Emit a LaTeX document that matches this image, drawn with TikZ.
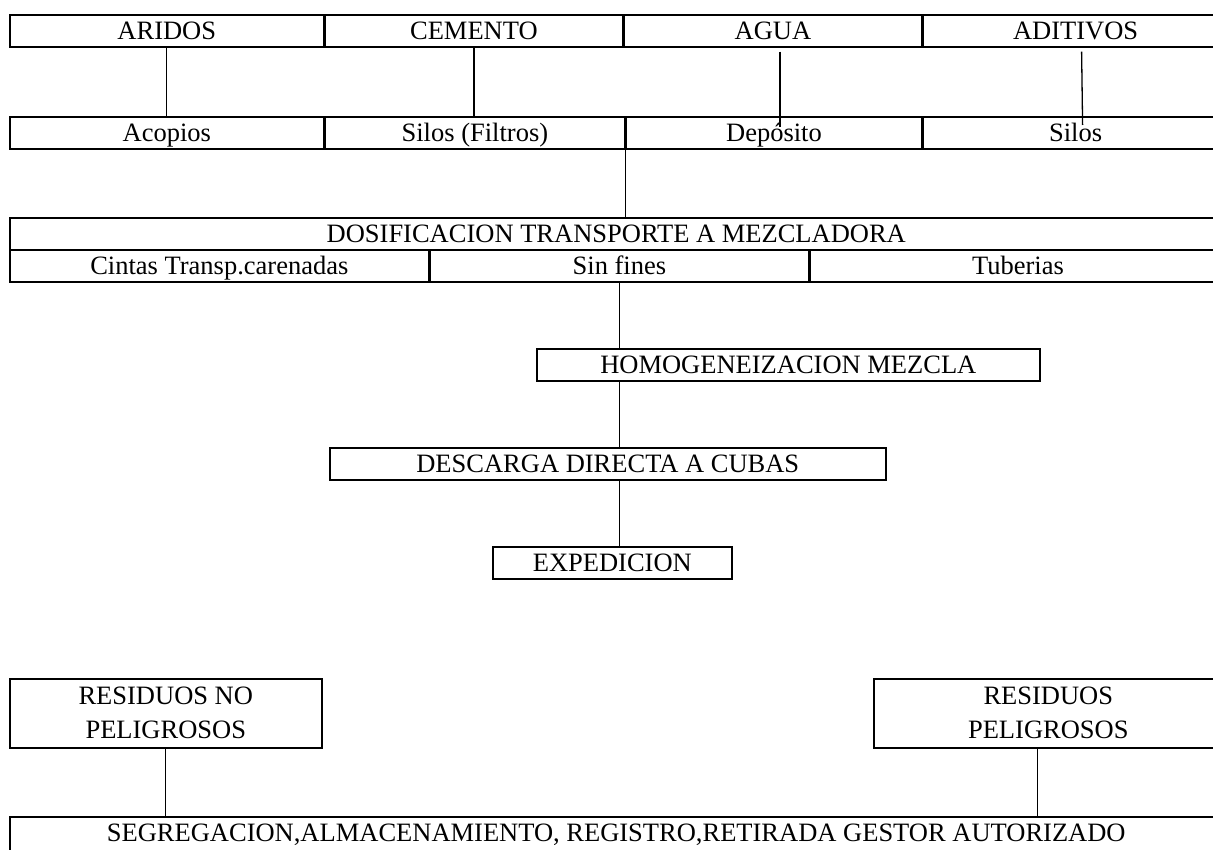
\documentclass[tikz,border=0pt]{standalone}
\usepackage{fontspec}
\setmainfont{Liberation Serif}
\usetikzlibrary{positioning,calc}

\begin{document}
\begin{tikzpicture}[x=1pt,y=-1pt]
\tikzstyle{every node}=[font=\fontsize{26.5}{34}\selectfont]
\tikzstyle{cell}=[draw, line width=1.6pt, inner sep=0pt, minimum height=32pt, text height=25pt, text depth=7pt, anchor=north west]
\tikzstyle{link}=[line width=1.3pt]
\useasboundingbox (0,0) rectangle (1213,850);
% materias primas
\node [cell, minimum width=314pt] (ARIDOS) at (9,14) {ARIDOS};
\node [cell, minimum width=297pt, right=0pt of ARIDOS] (CEMENTO) {CEMENTO};
\node [cell, minimum width=298pt, right=0pt of CEMENTO] (AGUA) {AGUA};
\node [cell, minimum width=304pt, right=0pt of AGUA] (ADITIVOS) {ADITIVOS};
% almacenamiento
\node [cell, minimum width=314pt] (Acopios) at (9,116) {Acopios};
\node [cell, minimum width=299pt, right=0pt of Acopios] (SilosF) {Silos (Filtros)};
\node [cell, minimum width=296pt, right=0pt of SilosF] (Deposito) {Depósito};
\node [cell, minimum width=304pt, right=0pt of Deposito] (Silos) {Silos};
% dosificacion
\node [cell, minimum width=1213pt] (DOSIF) at (9,217) {DOSIFICACION TRANSPORTE A MEZCLADORA};
\node [cell, minimum width=419pt] (Cintas) at (9,249) {Cintas Transp.carenadas};
\node [cell, minimum width=378pt, right=0pt of Cintas] (SinFines) {Sin fines};
\node [cell, minimum width=416pt, right=0pt of SinFines] (Tuberias) {Tuberias};
% proceso
\node [cell, minimum width=503pt] (HOMOG) at (536,348) {HOMOGENEIZACION MEZCLA};
\node [cell, minimum width=556pt] (DESC) at (329,447) {DESCARGA DIRECTA A CUBAS};
\node [cell, minimum width=239pt] (EXPED) at (492,546) {EXPEDICION};
% residuos
\node [cell, text height=, text depth=, minimum width=312pt, minimum height=69pt, align=center] (RESNO) at (9,678) {RESIDUOS NO\\PELIGROSOS};
\node [cell, text height=, text depth=, minimum width=349pt, minimum height=69pt, align=center] (RESP) at (873,678) {RESIDUOS\\PELIGROSOS};
\node [cell, minimum width=1213pt, minimum height=60pt, text height=25pt, text depth=35pt] (SEGREG) at (9,816) {SEGREGACION,ALMACENAMIENTO, REGISTRO,RETIRADA GESTOR AUTORIZADO};

\draw [link] (ARIDOS.south) -- (ARIDOS.south |- Acopios.north);
\draw [link] (CEMENTO.south) -- (CEMENTO.south |- SilosF.north);
\draw [link] ($(AGUA.south)+(7,4)$) -- ($(Deposito.north)+(6,11)$);
\draw [link] ($(ADITIVOS.south)+(6,4)$) -- ($(Silos.north)+(7,9)$);
\draw [link] (Deposito.south west) -- (Deposito.south west |- DOSIF.north);
\draw [link] (SinFines.south) -- (SinFines.south |- HOMOG.north);
\draw [link] (SinFines.south |- HOMOG.south) -- (SinFines.south |- DESC.north);
\draw [link] (SinFines.south |- DESC.south) -- (SinFines.south |- EXPED.north);
\draw [link] (RESNO.south) -- (RESNO.south |- SEGREG.north);
\draw [link] ($(RESP.south)+(-11,0)$) -- ($(RESP.south |- SEGREG.north)+(-11,0)$);
\end{tikzpicture}
\end{document}
